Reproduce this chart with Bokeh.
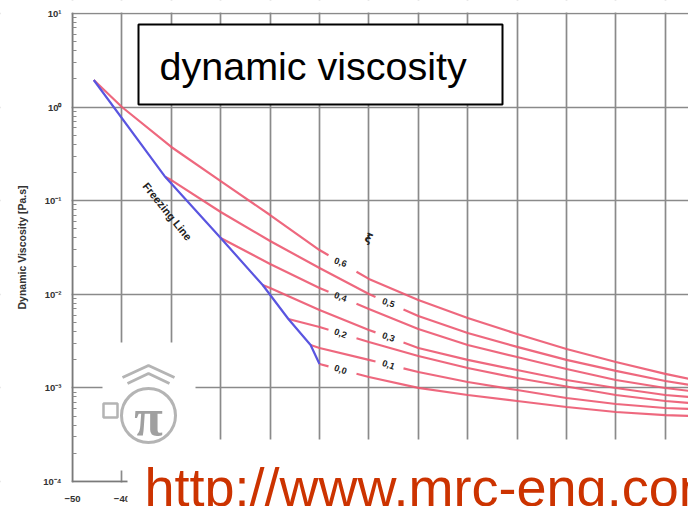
import numpy as np
from bokeh.plotting import figure
from bokeh.models import (Range1d, SingleIntervalTicker, FixedTicker, CustomJSTickFormatter,
                          BoxAnnotation, Label, ColumnDataSource)
from bokeh.core.properties import value
from bokeh.embed import file_html
from bokeh.resources import INLINE

# Propylene glycol / water mixtures: dynamic viscosity [mPa·s] over temperature [°C]
# Each series starts on the freezing line.
temp_60 = [-45.7, -40, -30, -20, -10, 0, 10, 20, 30, 40, 50, 60, 70, 75]
visc_60 = [1948, 1002, 375, 162, 70.3, 29.7, 14.6, 8.69, 5.58, 3.77, 2.60, 1.89, 1.41, 1.24]

temp_50 = [-31.2, -30, -20, -10, 0, 10, 20, 30, 40, 50, 60, 70, 75]
visc_50 = [179, 166, 75.7, 37.1, 19.1, 10.07, 5.87, 3.86, 2.74, 1.99, 1.52, 1.185, 1.074]

temp_40 = [-20.0, -10, 0, 10, 20, 30, 40, 50, 60, 70, 75]
visc_40 = [39.9, 21.1, 11.68, 6.97, 4.26, 2.87, 2.14, 1.59, 1.214, 0.998, 0.927]

temp_30 = [-11.5, -10, 0, 10, 20, 30, 40, 50, 60, 70, 75]
visc_30 = [12.57, 11.68, 6.80, 4.16, 2.67, 1.99, 1.553, 1.214, 0.998, 0.840, 0.799]

temp_20 = [-6.3, 0, 10, 20, 30, 40, 50, 60, 70, 75]
visc_20 = [5.45, 4.47, 3.09, 2.19, 1.632, 1.276, 1.036, 0.840, 0.725, 0.690]

temp_10 = [-1.8, 0, 10, 20, 30, 40, 50, 60, 70, 75]
visc_10 = [2.87, 2.67, 1.99, 1.479, 1.156, 0.950, 0.780, 0.673, 0.610, 0.595]

temp_00 = [0, 10, 20, 30, 40, 50, 60, 70, 75]
visc_00 = [1.80, 1.307, 1.00, 0.840, 0.725, 0.625, 0.553, 0.513, 0.501]

fraction_labels = ["0,6", "0,5", "0,4", "0,3", "0,2", "0,1", "0,0"]
series_temp = [temp_60, temp_50, temp_40, temp_30, temp_20, temp_10, temp_00]
series_visc = [visc_60, visc_50, visc_40, visc_30, visc_20, visc_10, visc_00]

ytick_values = [1e-4, 1e-3, 1e-2, 1e-1, 1e0, 1e1]
ytick_labels = ["10\u207b\u2074", "10\u207b\u00b3", "10\u207b\u00b2", "10\u207b\u00b9", "10\u2070", "10\u00b9"]

# ---- layout --------------------------------------------------------------
W, H = 688, 506
AXIS_X, AXIS_TOP, AXIS_Y = 72, 13, 481   # canvas pixels of the chart box
T_MIN, T_MAX = -50, 74.7
MU_MIN, MU_MAX = 1e-4, 10.0

px_deg = (W - AXIS_X) / (T_MAX - T_MIN)
px_dec = (AXIS_Y - AXIS_TOP) / np.log10(MU_MAX / MU_MIN)


def sx(px):
    """canvas x pixel -> temperature"""
    return T_MIN + (px - AXIS_X) / px_deg


def sy(py):
    """canvas y pixel -> viscosity [Pa·s]"""
    return 10 ** (np.log10(MU_MAX) - (py - AXIS_TOP) / px_dec)


# the frame fills the canvas; both axes are pinned inside it
p = figure(width=W, height=H, x_range=Range1d(sx(0), sx(W)), y_range=Range1d(sy(H), sy(0)),
           y_axis_type="log", output_backend="svg", toolbar_location=None,
           min_border_left=0, min_border_right=0, min_border_top=0, min_border_bottom=0)
p.outline_line_color = None
p.background_fill_color = "white"
p.border_fill_color = "white"

GRID = "#8a8a8a"
p.xaxis.ticker = SingleIntervalTicker(interval=10, num_minor_ticks=0)
p.xgrid.ticker = SingleIntervalTicker(interval=10, num_minor_ticks=0)
p.xaxis.fixed_location = MU_MIN
p.xaxis.bounds = (T_MIN, T_MAX)
minor = [m * 10.0 ** e for e in range(-4, 1) for m in range(2, 10)]
p.yaxis.ticker = FixedTicker(ticks=ytick_values, minor_ticks=minor)
p.ygrid.ticker = FixedTicker(ticks=ytick_values)
p.yaxis.fixed_location = T_MIN
p.yaxis.bounds = (MU_MIN, MU_MAX)
p.yaxis.formatter = CustomJSTickFormatter(
    args=dict(labels=ytick_labels),
    code="const e = Math.round(Math.log10(tick)); return labels[e + 4] ?? '';")

for g in (p.xgrid[0], p.ygrid[0]):
    g.grid_line_color = GRID
    g.grid_line_width = 1.7

for ax in (p.xaxis[0], p.yaxis[0]):
    ax.axis_line_color = "#7a7a7a"
    ax.axis_line_width = 1.5
    ax.major_tick_line_color = None
    ax.major_label_text_font = "Liberation Sans"
    ax.major_label_text_font_style = "bold"
    ax.major_label_text_font_size = "9.5px"
    ax.major_label_text_color = "#333333"

p.xaxis.major_label_standoff = 8
p.yaxis.major_label_standoff = 5
p.xaxis.minor_tick_line_color = None
p.yaxis.minor_tick_in = 4
p.yaxis.minor_tick_out = 0
p.yaxis.minor_tick_line_color = "#8a8a8a"
p.yaxis.axis_label = "Dynamic Viscosity [Pa.s]"
p.yaxis.axis_label_text_font = "Liberation Sans"
p.yaxis.axis_label_text_font_style = "bold"
p.yaxis.axis_label_text_font_size = "10.5px"
p.yaxis.axis_label_text_color = "#333333"
p.yaxis.axis_label_standoff = 12

# keep the grid inside the chart box: blank margins left, top and under the axis
for box in (dict(left=sx(0), right=sx(AXIS_X - 1), top=sy(0), bottom=sy(H)),
            dict(left=sx(0), right=sx(W), top=sy(0), bottom=sy(AXIS_TOP - 1)),
            dict(left=sx(0), right=sx(127), top=sy(AXIS_Y + 1), bottom=sy(H))):
    p.add_layout(BoxAnnotation(**box, fill_color="white", fill_alpha=1, line_color=None,
                               level="underlay"))

# ---- curves ----------------------------------------------------------------
RED = "#ec5870"
BLUE = "#5a55e0"
LEFT_COL = (sx(328), sx(340), sx(356))    # gap start, label, gap end
RIGHT_COL = (sx(375), sx(388), sx(403))


def split_at(t, v, t0, t1):
    t = np.asarray(t, float)
    lv = np.log10(np.asarray(v, float) / 1000.0)
    pre, post = t < t0, t > t1
    xs = list(t[pre]) + [t0, np.nan, t1] + list(t[post])
    ys = list(lv[pre]) + [np.interp(t0, t, lv), np.nan, np.interp(t1, t, lv)] + list(lv[post])
    return xs, list(10 ** np.asarray(ys))


lab_x, lab_y, lab_t = [], [], []
for i, (lbl, t, v) in enumerate(zip(fraction_labels, series_temp, series_visc)):
    col = LEFT_COL if i % 2 == 0 else RIGHT_COL
    xs, ys = split_at(t, v, col[0], col[2])
    p.line(xs, ys, line_color=RED, line_width=2.2, line_alpha=0.9)
    lab_x.append(col[1])
    lab_y.append(10 ** np.interp(col[1], t, np.log10(np.asarray(v) / 1000.0)))
    lab_t.append(lbl)

# freezing line through the first point of every series
freeze_t = [t[0] for t in series_temp]
freeze_v = [v[0] / 1000.0 for v in series_visc]
p.line(freeze_t, freeze_v, line_color=BLUE, line_width=2.2)

src = ColumnDataSource(dict(x=lab_x, y=lab_y, text=lab_t))
p.text("x", "y", text="text", source=src, angle=-0.35, text_align="center",
       text_baseline="middle", text_font=value("Liberation Sans"), text_font_style="bold",
       text_font_size="9px", text_color="#222222")

p.add_layout(Label(x=sx(368), y=sy(238), text="\u03be", angle=-0.4, text_align="center",
                   text_baseline="middle", text_font="DejaVu Sans", text_font_style="bold",
                   text_font_size="12px", text_color="#222222"))
p.add_layout(Label(x=sx(167), y=sy(211), text="Freezing Line", angle=-0.89, text_align="center",
                   text_baseline="middle", text_font="Liberation Sans", text_font_style="bold",
                   text_font_size="11px", text_color="#222222"))

# ---- title box ---------------------------------------------------------------
p.add_layout(BoxAnnotation(left=sx(138), right=sx(502), top=sy(24), bottom=sy(104),
                           fill_color="white", fill_alpha=1, line_color="black",
                           line_alpha=1, line_width=2, level="annotation"))
p.add_layout(Label(x=sx(159), y=sy(65), text="dynamic viscosity", text_baseline="middle",
                   text_font="Liberation Sans", text_font_size="39.5px", text_color="black"))

# ---- logo --------------------------------------------------------------------
p.add_layout(BoxAnnotation(left=sx(102), right=sx(195), top=sy(342), bottom=sy(470),
                           fill_color="white", fill_alpha=1, line_color=None, level="annotation"))
LOGO = "#b4b4b4"
cx, cy, r = 148, 415, 27
p.scatter([sx(cx)], [sy(cy)], marker="circle", size=2 * r, fill_color="white",
          line_color=LOGO, line_width=3, level="overlay")
roof = [[(-26, -38), (0, -50), (26, -38)], [(-21, -32), (0, -42), (21, -32)]]
p.multi_line([[sx(cx + a) for a, _ in seg] for seg in roof],
             [[sy(cy + b) for _, b in seg] for seg in roof],
             line_color=LOGO, line_width=3, level="overlay")
p.scatter([sx(cx - 38)], [sy(cy - 5)], marker="square", size=14, fill_color="white",
          line_color=LOGO, line_width=2.5, level="overlay")
p.text([sx(cx)], [sy(cy + 2)], text=["\u03c0"], text_align="center", text_baseline="middle",
       text_font=value("Liberation Serif"), text_font_style="bold", text_font_size="52px",
       text_color="#a0a0a0", level="overlay")

# ---- url banner -----------------------------------------------------------
URL_PAD = 17
p.add_layout(Label(x=sx(144 - URL_PAD), y=sy(486), text="http://www.mrc-eng.com",
                   text_baseline="middle", text_font="Liberation Sans",
                   text_font_size="54px", text_color="#cc3300",
                   background_fill_color="white", background_fill_alpha=1, padding=URL_PAD))

open("out.html", "w").write(file_html(p, INLINE))
